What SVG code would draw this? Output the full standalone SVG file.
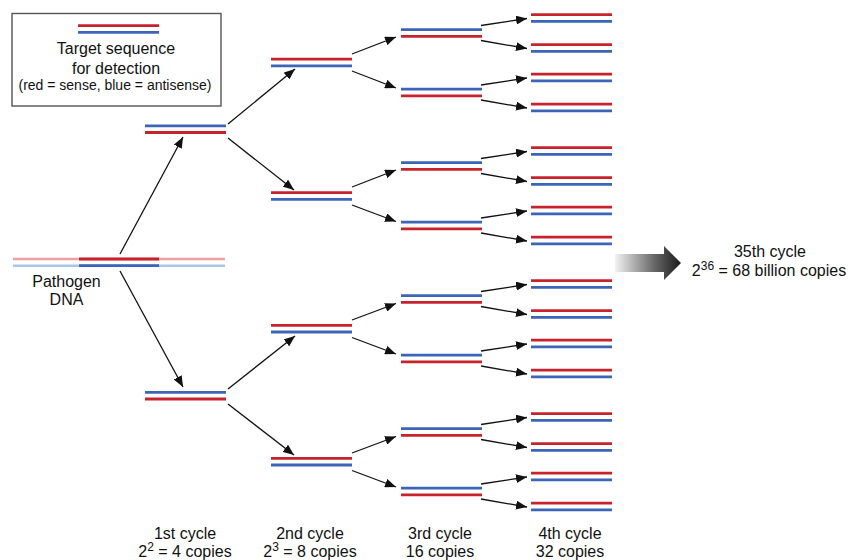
<svg xmlns="http://www.w3.org/2000/svg" xmlns:xlink="http://www.w3.org/1999/xlink" width="853" height="560" viewBox="0 0 853 560">
<style>
.r{stroke:#c8232c;stroke-width:2.8}
.b{stroke:#3c64b8;stroke-width:2.8}
.rf{stroke:#eaa1a4;stroke-width:2.4}
.bf{stroke:#a9c6ea;stroke-width:2.4}
.a{stroke:#111;stroke-width:1.3;fill:none;marker-end:url(#ah)}
text{font-family:"Liberation Sans",Arial,sans-serif;fill:#111;text-anchor:middle}
.t16{font-size:16px}
.t14{font-size:14px}
.sup{font-size:12px}
</style>
<defs>
<marker id="ah" markerUnits="userSpaceOnUse" markerWidth="12" markerHeight="9" refX="11" refY="4.5" orient="auto">
<path d="M0,0 L11,4.5 L0,9 z" fill="#111"/>
</marker>
<g id="rb"><line class="r" x1="0" x2="81" y1="-3.3" y2="-3.3"/><line class="b" x1="0" x2="81" y1="3.3" y2="3.3"/></g>
<g id="br"><line class="b" x1="0" x2="81" y1="-3.3" y2="-3.3"/><line class="r" x1="0" x2="81" y1="3.3" y2="3.3"/></g>
<linearGradient id="gr" x1="0" x2="1" y1="0" y2="0">
<stop offset="0" stop-color="#f2f2f2"/>
<stop offset="0.6" stop-color="#666"/>
<stop offset="1" stop-color="#1a1a1a"/>
</linearGradient>
</defs>
<rect width="853" height="560" fill="#fff"/>

<g id="legend">
<rect x="12" y="13.5" width="209" height="92.5" fill="#fff" stroke="#555" stroke-width="1.4"/>
<line class="r" x1="78" x2="159" y1="25.7" y2="25.7"/>
<line class="b" x1="78" x2="159" y1="32.3" y2="32.3"/>
<text class="t16" x="116" y="53.5">Target sequence</text>
<text class="t16" x="116" y="74">for detection</text>
<text class="t14" x="115" y="90">(red = sense, blue = antisense)</text>
</g>

<g id="pathogen">
<line class="rf" x1="13" x2="225" y1="259" y2="259"/>
<line class="bf" x1="13" x2="225" y1="265.7" y2="265.7"/>
<line class="r" x1="79" x2="159" y1="259" y2="259"/>
<line class="b" x1="79" x2="159" y1="265.7" y2="265.7"/>
<text class="t16" x="66.5" y="286.5">Pathogen</text>
<text class="t16" x="66.5" y="304.5">DNA</text>
</g>

<g id="c1n1"><use xlink:href="#br" x="145" y="129.2"/></g>
<g id="c1n2"><use xlink:href="#br" x="145" y="395.7"/></g>

<g id="c2n1"><use xlink:href="#rb" x="271" y="62.5"/></g>
<g id="c2n2"><use xlink:href="#rb" x="271" y="196"/></g>
<g id="c2n3"><use xlink:href="#rb" x="271" y="328.7"/></g>
<g id="c2n4"><use xlink:href="#rb" x="271" y="461.7"/></g>

<g id="c3n1"><use xlink:href="#br" x="401" y="33"/></g>
<g id="c3n2"><use xlink:href="#br" x="401" y="92.5"/></g>
<g id="c3n3"><use xlink:href="#br" x="401" y="166"/></g>
<g id="c3n4"><use xlink:href="#br" x="401" y="225.5"/></g>
<g id="c3n5"><use xlink:href="#br" x="401" y="299"/></g>
<g id="c3n6"><use xlink:href="#br" x="401" y="358.5"/></g>
<g id="c3n7"><use xlink:href="#br" x="401" y="432"/></g>
<g id="c3n8"><use xlink:href="#br" x="401" y="491.5"/></g>

<g id="c4n1"><use xlink:href="#rb" x="531" y="18"/></g>
<g id="c4n2"><use xlink:href="#rb" x="531" y="48"/></g>
<g id="c4n3"><use xlink:href="#rb" x="531" y="77.5"/></g>
<g id="c4n4"><use xlink:href="#rb" x="531" y="107.5"/></g>
<g id="c4n5"><use xlink:href="#rb" x="531" y="151"/></g>
<g id="c4n6"><use xlink:href="#rb" x="531" y="181"/></g>
<g id="c4n7"><use xlink:href="#rb" x="531" y="210.5"/></g>
<g id="c4n8"><use xlink:href="#rb" x="531" y="240.5"/></g>
<g id="c4n9"><use xlink:href="#rb" x="531" y="284"/></g>
<g id="c4n10"><use xlink:href="#rb" x="531" y="314"/></g>
<g id="c4n11"><use xlink:href="#rb" x="531" y="343.5"/></g>
<g id="c4n12"><use xlink:href="#rb" x="531" y="373.5"/></g>
<g id="c4n13"><use xlink:href="#rb" x="531" y="417"/></g>
<g id="c4n14"><use xlink:href="#rb" x="531" y="447"/></g>
<g id="c4n15"><use xlink:href="#rb" x="531" y="476.5"/></g>
<g id="c4n16"><use xlink:href="#rb" x="531" y="506.5"/></g>

<g id="connectors">
<line class="a" x1="120" y1="254" x2="183" y2="137"/>
<line class="a" x1="120" y1="271" x2="183" y2="387"/>
<line class="a" x1="228" y1="124" x2="295" y2="69"/>
<line class="a" x1="228" y1="138" x2="294" y2="190"/>
<line class="a" x1="228" y1="389" x2="295" y2="336"/>
<line class="a" x1="228" y1="404" x2="294" y2="455"/>

<line class="a" x1="352" y1="54" x2="396" y2="37"/>
<line class="a" x1="352" y1="71" x2="396" y2="88"/>
<line class="a" x1="352" y1="187" x2="396" y2="170"/>
<line class="a" x1="352" y1="205" x2="396" y2="221.5"/>
<line class="a" x1="352" y1="320" x2="396" y2="303.5"/>
<line class="a" x1="352" y1="337.5" x2="396" y2="354"/>
<line class="a" x1="352" y1="453" x2="396" y2="436.5"/>
<line class="a" x1="352" y1="470.5" x2="396" y2="487"/>

<line class="a" x1="481" y1="25.5" x2="527" y2="18.5"/>
<line class="a" x1="481" y1="40.5" x2="527" y2="48.5"/>
<line class="a" x1="481" y1="85" x2="527" y2="78"/>
<line class="a" x1="481" y1="100" x2="527" y2="108"/>
<line class="a" x1="481" y1="158.5" x2="527" y2="151.5"/>
<line class="a" x1="481" y1="173.5" x2="527" y2="181.5"/>
<line class="a" x1="481" y1="218" x2="527" y2="211"/>
<line class="a" x1="481" y1="233" x2="527" y2="241"/>
<line class="a" x1="481" y1="291.5" x2="527" y2="284.5"/>
<line class="a" x1="481" y1="306.5" x2="527" y2="314.5"/>
<line class="a" x1="481" y1="351" x2="527" y2="344"/>
<line class="a" x1="481" y1="366" x2="527" y2="374"/>
<line class="a" x1="481" y1="424.5" x2="527" y2="417.5"/>
<line class="a" x1="481" y1="439.5" x2="527" y2="447.5"/>
<line class="a" x1="481" y1="484" x2="527" y2="477"/>
<line class="a" x1="481" y1="499" x2="527" y2="507"/>
</g>

<g id="bigarrow">
<path d="M615,254 L664,254 L664,246 L681,263 L664,280 L664,272 L615,272 Z" fill="url(#gr)"/>
</g>

<g id="result">
<text class="t16" x="770" y="257">35th cycle</text>
<text class="t16" x="769" y="275.5">2<tspan class="sup" dy="-6">36</tspan><tspan dy="6"> = 68 billion copies</tspan></text>
</g>

<g id="labels">
<text class="t16" x="185" y="538.5">1st cycle</text>
<text class="t16" x="185" y="557">2<tspan class="sup" dy="-6">2</tspan><tspan dy="6"> = 4 copies</tspan></text>
<text class="t16" x="310" y="538.5">2nd cycle</text>
<text class="t16" x="310" y="557">2<tspan class="sup" dy="-6">3</tspan><tspan dy="6"> = 8 copies</tspan></text>
<text class="t16" x="440" y="538.5">3rd cycle</text>
<text class="t16" x="440" y="557">16 copies</text>
<text class="t16" x="570" y="538.5">4th cycle</text>
<text class="t16" x="570" y="557">32 copies</text>
</g>
</svg>
